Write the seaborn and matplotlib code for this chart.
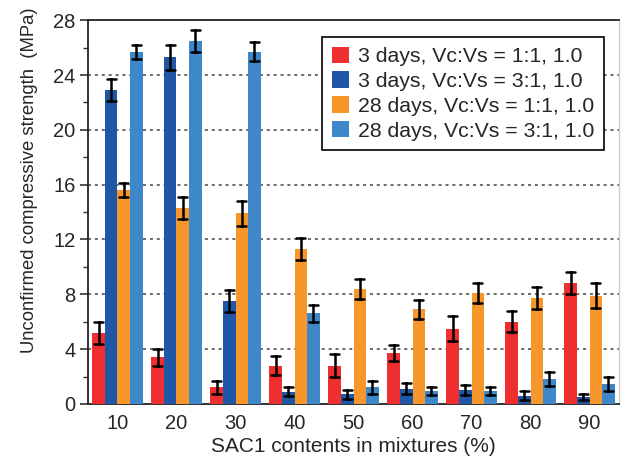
import numpy as np
import pandas as pd
import matplotlib
matplotlib.use("Agg")
import matplotlib.pyplot as plt
import seaborn as sns
from matplotlib.ticker import MultipleLocator, FixedLocator

categories = ["10", "20", "30", "40", "50", "60", "70", "80", "90"]
series = ["3 days, Vc:Vs = 1:1, 1.0", "3 days, Vc:Vs = 3:1, 1.0",
          "28 days, Vc:Vs = 1:1, 1.0", "28 days, Vc:Vs = 3:1, 1.0"]
d3_11 = [5.2, 3.4, 1.2, 2.8, 2.8, 3.7, 5.5, 6.0, 8.8]
d3_11_err = [0.8, 0.6, 0.5, 0.7, 0.85, 0.6, 0.9, 0.75, 0.8]
d3_31 = [22.9, 25.3, 7.5, 0.9, 0.7, 1.1, 1.0, 0.6, 0.5]
d3_31_err = [0.8, 0.9, 0.8, 0.3, 0.35, 0.4, 0.35, 0.35, 0.2]
d28_11 = [15.6, 14.3, 13.9, 11.3, 8.4, 6.9, 8.1, 7.7, 7.9]
d28_11_err = [0.5, 0.8, 0.9, 0.8, 0.75, 0.7, 0.75, 0.8, 0.9]
d28_31 = [25.7, 26.5, 25.7, 6.6, 1.2, 0.95, 0.95, 1.8, 1.45]
d28_31_err = [0.5, 0.8, 0.7, 0.6, 0.45, 0.3, 0.3, 0.5, 0.5]
colors = ["#EE2E2F", "#1F57A6", "#F7962A", "#3E88CA"]

rows = []
for s, vals, errs in zip(series, [d3_11, d3_31, d28_11, d28_31],
                         [d3_11_err, d3_31_err, d28_11_err, d28_31_err]):
    for c, v, e in zip(categories, vals, errs):
        rows.append((c, s, v - e))
        rows.append((c, s, v + e))
df = pd.DataFrame(rows, columns=["cat", "series", "value"])

sns.set_style("white")
plt.rcParams["font.family"] = ["Liberation Sans", "DejaVu Sans"]

fig = plt.figure(figsize=(6.21, 4.59), dpi=100)
ax = fig.add_axes([0.1417, 0.120, 0.8551, 0.836])

sns.barplot(data=df, x="cat", y="value", hue="series", order=categories,
            hue_order=series, palette=colors, estimator="mean",
            errorbar=lambda v: (v.min(), v.max()), capsize=0.6,
            err_kws={"color": "black", "linewidth": 1.8, "zorder": 4},
            width=0.85, saturation=1, linewidth=0, ax=ax, zorder=3)

ax.set_xlim(-0.5, 8.5)
ax.set_ylim(0, 28)
ax.yaxis.set_major_locator(MultipleLocator(4))
ax.yaxis.set_minor_locator(MultipleLocator(2))
ax.xaxis.set_minor_locator(FixedLocator([0.5 + i for i in range(8)]))
ax.tick_params(axis="x", which="major", length=0, labelsize=14.5, pad=7)
ax.tick_params(axis="x", which="minor", length=7, width=1.2, direction="out", color="#333333")
ax.tick_params(axis="y", which="major", length=6, width=1.2, direction="out",
               labelsize=14.5, color="#333333", left=True, pad=3)
ax.tick_params(axis="y", which="minor", length=3.5, width=1.0, direction="out",
               color="#333333", left=True)

for y in range(4, 28, 4):
    ax.axhline(y, color="#444444", linestyle=(0, (2, 2.5)), linewidth=1.1, zorder=1)

for side in ["left", "bottom", "top"]:
    ax.spines[side].set_visible(True)
    ax.spines[side].set_color("#222222")
    ax.spines[side].set_linewidth(1.3)
ax.spines["right"].set_visible(True)
ax.spines["right"].set_color("#cccccc")
ax.spines["right"].set_linewidth(1.0)

ax.set_xlabel("SAC1 contents in mixtures (%)", fontsize=15, labelpad=3)
ax.set_ylabel("Unconfirmed compressive strength  (MPa)", fontsize=13.3)
ax.yaxis.set_label_coords(-0.094, 0.583)

leg = ax.legend(loc="upper right", bbox_to_anchor=(0.972, 0.956), fontsize=15.3,
                frameon=True, fancybox=False, edgecolor="black", framealpha=1,
                handlelength=0.8, handleheight=0.8, handletextpad=0.45,
                labelspacing=0.25, borderpad=0.45, borderaxespad=0)
leg.get_frame().set_linewidth(1.2)
leg.set_zorder(5)

fig.savefig("out.png", dpi=100)
